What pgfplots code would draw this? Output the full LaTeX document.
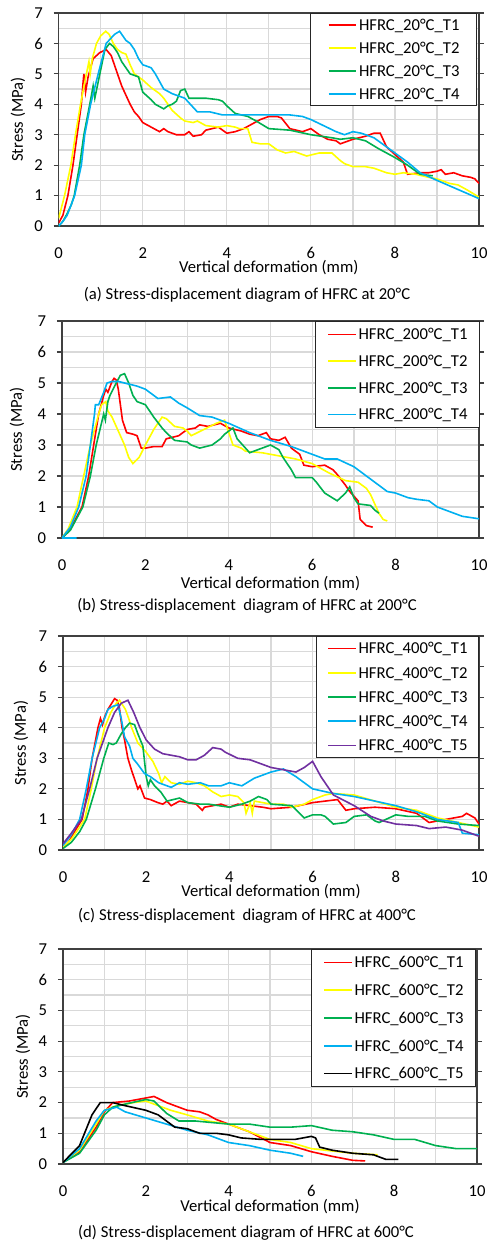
\documentclass[border=0pt]{standalone}
\usepackage{fontspec}
\setmainfont{Carlito}
\usepackage{pgfplots}
\pgfplotsset{compat=1.18}

\definecolor{xred}{RGB}{255,0,0}
\definecolor{xyel}{RGB}{255,255,0}
\definecolor{xgrn}{RGB}{0,176,80}
\definecolor{xblu}{RGB}{0,176,240}
\definecolor{xpur}{RGB}{112,48,160}
\definecolor{gridgray}{RGB}{217,217,217}

\newcommand{\fs}{\fontsize{12.5}{14}\selectfont}

\pgfplotsset{
  panel/.style={
    scale only axis, anchor=south west,
    xmin=0, xmax=10, ymin=0, ymax=7,
    xtick={0,2,...,10}, minor xtick={1,3,...,9},
    ytick={0,...,7}, minor ytick={0.5,1.5,...,6.5},
    grid=both,
    major grid style={draw=gridgray, line width=0.9pt},
    minor grid style={draw=gridgray, line width=0.9pt},
    axis line style={draw=black!75, line width=0.9pt},
    tick align=outside, major tick length=3.75pt, minor tick length=0pt,
    xtick style={draw=none},
    ytick style={draw=black!75, line width=0.9pt},
    /pgf/number format/assume math mode=true,
    tick label style={font=\fs},
    xticklabel style={anchor=center, yshift=-16.5pt, inner sep=0pt},
    yticklabel style={anchor=east, xshift=-8pt, inner sep=0pt},
    label style={font=\fs},
    xlabel={Vertical deformation (mm)},
    ylabel={Stress (MPa)},
    legend cell align=left,
    legend style={at={(1,1)}, anchor=north east, draw=black!85, line width=0.8pt,
      fill=white, font=\fs,
      nodes={inner sep=0pt, text height=8pt, text depth=0pt},
      column sep=1.5pt},
    legend image code/.code={\draw[#1, line width=1.3pt] (0pt,0pt) -- (20.6pt,0pt);},
    every axis plot/.append style={line width=1.2pt},
  }
}

\begin{document}
\begin{tikzpicture}
\useasboundingbox (0,0) rectangle (366pt,-932.25pt);

% ---------- (a) 20 C ----------
\begin{axis}[panel, at={(44pt,-169.5pt)}, width=315.25pt, height=159.75pt,
  xlabel style={at={(axis description cs:0.5,0)}, anchor=center, yshift=-31.5pt},
  ylabel style={at={([xshift=-30.5pt]axis description cs:0,0.5)}, anchor=center},
  legend style={xshift=-1.5pt, row sep=9.25pt, inner xsep=12.75pt, inner ysep=4.5pt}]
\addplot[draw=xred] coordinates {
(0,0.1)(0.1,0.35)(0.22,1.0)(0.34,2.0)(0.44,3.0)(0.54,4.0)(0.58,4.7)(0.6,5.0)(0.64,4.4)(0.7,4.9)(0.82,5.5)(0.98,5.7)(1.13,5.8)(1.25,5.6)(1.35,5.2)(1.5,4.6)(1.6,4.3)(1.7,4.0)(1.8,3.75)(1.9,3.6)(2.0,3.4)(2.2,3.25)(2.4,3.1)(2.5,3.2)(2.6,3.1)(2.8,3.0)(3.0,3.0)(3.1,3.1)(3.2,2.95)(3.4,3.0)(3.5,3.15)(3.8,3.25)(3.9,3.15)(4.0,3.05)(4.2,3.1)(4.4,3.2)(4.6,3.35)(4.8,3.5)(5.0,3.6)(5.2,3.6)(5.3,3.55)(5.5,3.2)(5.8,3.1)(6.0,3.2)(6.2,3.0)(6.4,2.85)(6.6,2.8)(6.7,2.7)(6.8,2.75)(7.0,2.85)(7.3,2.95)(7.5,3.05)(7.65,3.05)(7.8,2.6)(8.0,2.35)(8.2,2.1)(8.3,1.7)(8.6,1.75)(8.8,1.75)(9.0,1.8)(9.1,1.85)(9.2,1.7)(9.4,1.75)(9.6,1.65)(9.8,1.6)(9.9,1.55)(10,1.4)
};
\addlegendentry{HFRC\_20°C\_T1}
\addplot[draw=xyel] coordinates {
(0,0.25)(0.14,1.0)(0.29,2.0)(0.4,3.0)(0.52,4.0)(0.66,5.0)(0.72,5.4)(0.75,5.0)(0.8,5.5)(0.9,6.0)(1.0,6.25)(1.12,6.4)(1.2,6.3)(1.3,6.0)(1.4,5.8)(1.5,5.7)(1.6,5.65)(1.7,5.3)(1.8,5.0)(2.0,4.8)(2.2,4.55)(2.4,4.35)(2.5,4.2)(2.7,3.8)(2.9,3.55)(3.0,3.45)(3.2,3.4)(3.3,3.45)(3.5,3.3)(3.8,3.25)(4.0,3.3)(4.2,3.25)(4.3,3.2)(4.5,3.2)(4.6,2.75)(4.8,2.7)(5.0,2.7)(5.2,2.5)(5.4,2.4)(5.6,2.45)(5.8,2.35)(5.9,2.3)(6.2,2.4)(6.5,2.4)(6.7,2.15)(6.8,2.05)(7.0,1.95)(7.3,1.95)(7.5,1.9)(7.8,1.75)(8.0,1.7)(8.2,1.75)(8.5,1.7)(8.8,1.6)(9.0,1.55)(9.3,1.4)(9.5,1.35)(9.7,1.2)(10,0.95)
};
\addlegendentry{HFRC\_20°C\_T2}
\addplot[draw=xgrn] coordinates {
(0,0)(0.1,0.15)(0.2,0.4)(0.3,0.7)(0.37,1.0)(0.5,2.0)(0.6,3.0)(0.74,4.0)(0.82,4.6)(0.86,4.2)(0.98,5.0)(1.1,5.8)(1.21,6.0)(1.3,5.9)(1.4,5.7)(1.5,5.4)(1.6,5.2)(1.7,5.0)(1.9,4.9)(2.0,4.4)(2.2,4.15)(2.3,4.0)(2.5,3.85)(2.6,3.95)(2.7,4.0)(2.8,4.1)(2.9,4.45)(3.0,4.5)(3.1,4.2)(3.5,4.2)(3.8,4.15)(3.9,4.1)(4.0,3.95)(4.2,3.7)(4.5,3.6)(4.7,3.45)(5.0,3.2)(5.5,3.15)(6.0,3.0)(6.5,2.9)(6.7,2.85)(7.0,2.9)(7.3,2.8)(7.6,2.55)(7.8,2.4)(8.0,2.25)(8.3,2.0)(8.6,1.7)(8.9,1.65)
};
\addlegendentry{HFRC\_20°C\_T3}
\addplot[draw=xblu] coordinates {
(0,0)(0.1,0.15)(0.2,0.35)(0.3,0.7)(0.38,1.0)(0.54,2.0)(0.62,3.0)(0.76,4.0)(0.94,5.0)(1.13,6.0)(1.33,6.3)(1.45,6.4)(1.55,6.2)(1.6,6.1)(1.7,6.0)(1.8,5.8)(1.9,5.5)(2.0,5.3)(2.2,5.2)(2.3,5.0)(2.5,4.5)(2.7,4.35)(2.8,4.3)(3.0,4.2)(3.2,3.9)(3.3,3.75)(3.6,3.75)(3.9,3.65)(4.5,3.65)(5.0,3.65)(5.5,3.65)(5.8,3.6)(6.0,3.5)(6.3,3.3)(6.6,3.1)(6.8,3.0)(7.0,3.1)(7.2,3.05)(7.5,2.9)(7.8,2.6)(8.0,2.4)(8.3,2.1)(8.6,1.75)(9.0,1.5)(9.5,1.2)(10,0.9)
};
\addlegendentry{HFRC\_20°C\_T4}
\end{axis}
\node[font=\fs] at (185.25pt,-221.25pt) {(a) Stress-displacement diagram of HFRC at 20°C};

% ---------- (b) 200 C ----------
\begin{axis}[panel, at={(46.5pt,-403.5pt)}, width=312.75pt, height=162.75pt,
  xlabel style={at={(axis description cs:0.5,0)}, anchor=center, yshift=-34.5pt},
  ylabel style={at={([xshift=-33.75pt]axis description cs:0,0.5)}, anchor=center},
  legend style={xshift=0.75pt, row sep=12pt, inner xsep=9pt, inner ysep=5.75pt}]
\addplot[draw=xred] coordinates {
(0,0)(0.2,0.3)(0.48,1.0)(0.64,2.0)(0.76,3.0)(0.88,4.0)(1.0,4.6)(1.05,4.8)(1.1,4.7)(1.2,5.05)(1.25,5.15)(1.3,5.1)(1.35,4.8)(1.45,3.8)(1.55,3.4)(1.7,3.35)(1.8,3.3)(1.9,2.9)(2.0,2.9)(2.2,2.95)(2.4,2.95)(2.5,3.2)(2.8,3.3)(3.0,3.5)(3.2,3.55)(3.3,3.65)(3.5,3.6)(3.8,3.7)(4.0,3.55)(4.3,3.45)(4.5,3.35)(4.7,3.3)(4.9,3.4)(5.0,3.2)(5.2,3.15)(5.35,3.25)(5.5,2.9)(5.7,2.7)(5.8,2.35)(6.0,2.3)(6.3,2.35)(6.5,2.2)(6.6,2.05)(6.8,1.7)(6.9,1.5)(7.1,1.2)(7.15,0.6)(7.3,0.4)(7.45,0.35)
};
\addlegendentry{HFRC\_200°C\_T1}
\addplot[draw=xyel] coordinates {
(0,0)(0.15,0.3)(0.36,1.0)(0.52,2.0)(0.68,3.0)(0.88,4.0)(0.95,4.3)(1.05,4.4)(1.1,4.1)(1.2,3.9)(1.4,3.3)(1.5,3.0)(1.6,2.6)(1.7,2.4)(1.85,2.6)(2.0,3.0)(2.2,3.5)(2.4,3.9)(2.5,3.85)(2.7,3.6)(2.9,3.55)(3.0,3.45)(3.1,3.3)(3.4,3.5)(3.7,3.7)(3.9,3.8)(4.0,3.4)(4.1,3.0)(4.3,2.9)(4.4,2.8)(4.8,2.75)(5.2,2.65)(5.6,2.55)(6.0,2.4)(6.4,2.1)(6.8,1.85)(7.1,1.8)(7.3,1.6)(7.4,1.4)(7.6,0.8)(7.7,0.6)(7.8,0.55)
};
\addlegendentry{HFRC\_200°C\_T2}
\addplot[draw=xgrn] coordinates {
(0,0)(0.2,0.25)(0.5,1.0)(0.68,2.0)(0.82,3.0)(1.0,4.0)(1.04,3.8)(1.1,4.4)(1.15,4.6)(1.3,5.0)(1.4,5.25)(1.5,5.3)(1.6,5.0)(1.7,4.6)(1.8,4.4)(2.0,4.3)(2.2,3.9)(2.4,3.55)(2.5,3.4)(2.7,3.15)(3.0,3.1)(3.1,3.0)(3.3,2.9)(3.6,3.0)(3.8,3.2)(3.9,3.35)(4.1,3.55)(4.2,3.2)(4.4,2.9)(4.5,2.75)(4.8,2.9)(5.0,3.0)(5.2,2.85)(5.3,2.6)(5.5,2.2)(5.6,1.95)(6.0,1.95)(6.1,1.8)(6.3,1.45)(6.6,1.2)(6.8,1.45)(6.9,1.65)(7.0,1.3)(7.1,1.1)(7.4,1.05)(7.5,0.9)(7.6,0.8)
};
\addlegendentry{HFRC\_200°C\_T3}
\addplot[draw=xblu] coordinates {
(0.35,0)(0,0)(0.2,0.35)(0.4,1.0)(0.58,2.0)(0.68,3.0)(0.78,4.0)(0.8,4.3)(0.88,4.3)(1.0,4.7)(1.08,5.0)(1.2,5.05)(1.35,5.05)(1.5,5.0)(1.8,4.9)(2.0,4.8)(2.2,4.6)(2.3,4.5)(2.6,4.55)(2.8,4.35)(3.0,4.2)(3.3,3.95)(3.6,3.9)(4.0,3.7)(4.5,3.4)(5.0,3.15)(5.5,2.95)(6.0,2.7)(6.3,2.55)(6.6,2.55)(7.0,2.3)(7.3,2.0)(7.5,1.8)(7.8,1.5)(8.0,1.45)(8.3,1.3)(8.5,1.25)(8.8,1.2)(9.0,1.0)(9.3,0.85)(9.6,0.7)(10,0.62)
};
\addlegendentry{HFRC\_200°C\_T4}
\end{axis}
\node[font=\fs] at (185.25pt,-454.5pt) {(b) Stress-displacement\ \ diagram of HFRC at 200°C};

% ---------- (c) 400 C ----------
\begin{axis}[panel, at={(47.25pt,-637.5pt)}, width=312pt, height=160.5pt,
  xlabel style={at={(axis description cs:0.5,0)}, anchor=center, yshift=-31.5pt},
  ylabel style={at={([xshift=-31.5pt]axis description cs:0,0.5)}, anchor=center},
  legend style={xshift=0pt, row sep=10.2pt, inner xsep=8.25pt, inner ysep=5pt}]
\addplot[draw=xred] coordinates {
(0,0.05)(0.15,0.3)(0.3,0.65)(0.46,1.0)(0.6,2.0)(0.7,3.0)(0.84,4.0)(0.9,4.3)(0.95,4.1)(1.0,4.35)(1.08,4.6)(1.24,4.95)(1.3,4.9)(1.35,4.7)(1.42,4.0)(1.48,3.6)(1.56,3.0)(1.65,2.6)(1.8,2.0)(1.85,2.1)(1.96,1.7)(2.1,1.65)(2.28,1.55)(2.4,1.5)(2.5,1.6)(2.6,1.45)(2.8,1.6)(3.0,1.55)(3.2,1.5)(3.35,1.3)(3.4,1.4)(3.6,1.45)(3.8,1.5)(4.0,1.4)(4.2,1.5)(4.5,1.45)(4.8,1.4)(5.0,1.35)(5.5,1.4)(6.0,1.55)(6.3,1.6)(6.6,1.65)(6.8,1.3)(7.0,1.35)(7.5,1.4)(8.0,1.35)(8.5,1.2)(8.8,0.9)(9.2,1.0)(9.6,1.1)(9.7,1.2)(9.9,1.05)(10,0.85)
};
\addlegendentry{HFRC\_400°C\_T1}
\addplot[draw=xyel] coordinates {
(0,0.1)(0.2,0.35)(0.35,0.65)(0.52,1.0)(0.68,2.0)(0.82,3.0)(1.0,4.0)(1.15,4.5)(1.28,4.8)(1.36,4.9)(1.5,4.6)(1.58,4.3)(1.65,4.0)(1.8,3.5)(2.0,3.2)(2.16,2.9)(2.3,2.5)(2.37,2.2)(2.45,2.4)(2.6,2.2)(2.8,2.15)(3.0,2.25)(3.2,2.2)(3.4,2.1)(3.6,1.9)(3.8,1.75)(4.0,1.8)(4.2,1.75)(4.35,1.55)(4.4,1.2)(4.5,1.55)(4.55,1.2)(4.6,1.6)(4.8,1.55)(5.0,1.5)(5.3,1.5)(5.5,1.4)(5.8,1.5)(6.0,1.65)(6.3,1.8)(6.5,1.85)(7.0,1.8)(7.5,1.6)(8.0,1.4)(8.5,1.3)(9.0,1.05)(9.5,0.9)(10,0.75)
};
\addlegendentry{HFRC\_400°C\_T2}
\addplot[draw=xgrn] coordinates {
(0,0.05)(0.2,0.25)(0.4,0.6)(0.56,1.0)(0.78,2.0)(0.98,3.0)(1.1,3.5)(1.2,3.45)(1.28,3.5)(1.4,3.8)(1.5,4.0)(1.6,4.15)(1.72,4.1)(1.8,3.8)(1.92,3.4)(2.0,2.4)(2.05,2.1)(2.1,2.3)(2.2,2.1)(2.35,1.9)(2.5,1.6)(2.8,1.7)(3.0,1.55)(3.3,1.5)(3.5,1.5)(4.0,1.4)(4.3,1.5)(4.5,1.6)(4.7,1.75)(4.9,1.65)(5.0,1.5)(5.5,1.45)(5.8,1.05)(6.0,1.15)(6.2,1.15)(6.3,1.1)(6.5,0.85)(6.8,0.9)(7.0,1.1)(7.3,1.15)(7.5,0.95)(7.6,0.9)(8.0,1.15)(8.3,1.1)(8.7,1.1)(9.0,0.95)(9.5,0.85)(10,0.8)
};
\addlegendentry{HFRC\_400°C\_T3}
\addplot[draw=xblu] coordinates {
(0,0.15)(0.2,0.5)(0.4,1.0)(0.56,2.0)(0.7,3.0)(0.88,4.0)(1.0,4.3)(1.08,4.6)(1.2,4.7)(1.32,4.75)(1.4,4.3)(1.48,3.7)(1.6,3.4)(1.68,3.0)(1.8,2.8)(1.96,2.5)(2.1,2.4)(2.3,2.2)(2.6,2.05)(2.8,2.2)(3.0,2.15)(3.3,2.2)(3.5,2.1)(3.8,2.1)(4.0,2.2)(4.3,2.1)(4.6,2.35)(5.0,2.55)(5.3,2.65)(5.6,2.4)(6.0,2.0)(6.5,1.85)(7.0,1.75)(7.5,1.6)(8.0,1.45)(8.5,1.25)(9.0,1.0)(9.5,0.9)(9.6,0.55)(10,0.5)
};
\addlegendentry{HFRC\_400°C\_T4}
\addplot[draw=xpur] coordinates {
(0,0.2)(0.2,0.55)(0.44,1.0)(0.64,2.0)(0.82,3.0)(1.08,4.0)(1.24,4.5)(1.4,4.8)(1.56,4.9)(1.7,4.5)(1.85,4.0)(2.0,3.6)(2.2,3.3)(2.4,3.15)(2.6,3.1)(2.8,3.05)(3.0,2.95)(3.2,2.95)(3.4,3.1)(3.6,3.35)(3.8,3.3)(3.9,3.2)(4.2,3.0)(4.5,2.95)(4.8,2.8)(5.0,2.7)(5.2,2.65)(5.6,2.55)(5.8,2.7)(6.0,2.9)(6.2,2.4)(6.5,1.8)(7.0,1.45)(7.4,1.1)(7.7,0.95)(8.0,0.85)(8.5,0.8)(8.8,0.7)(9.2,0.75)(9.6,0.65)(10,0.45)
};
\addlegendentry{HFRC\_400°C\_T5}
\end{axis}
\node[font=\fs] at (185.25pt,-687pt) {(c) Stress-displacement\ \ diagram of HFRC at 400°C};

% ---------- (d) 600 C ----------
\begin{axis}[panel, at={(47.25pt,-873pt)}, width=310.5pt, height=161.25pt,
  xlabel style={at={(axis description cs:0.5,0)}, anchor=center, yshift=-32.25pt},
  ylabel style={at={([xshift=-30pt]axis description cs:0,0.5)}, anchor=center},
  legend style={xshift=-0.75pt, row sep=12.8pt, inner xsep=9pt, inner ysep=5.75pt}]
\addplot[draw=xred] coordinates {
(0,0.05)(0.4,0.4)(0.8,1.2)(1.0,1.7)(1.2,2.0)(1.6,2.05)(2.0,2.15)(2.2,2.2)(2.5,2.0)(3.0,1.75)(3.3,1.7)(3.5,1.6)(3.7,1.45)(4.0,1.3)(4.5,1.05)(5.0,0.7)(5.5,0.6)(6.0,0.4)(6.5,0.25)(7.0,0.12)(7.3,0.1)
};
\addlegendentry{HFRC\_600°C\_T1}
\addplot[draw=xyel] coordinates {
(0,0.05)(0.4,0.45)(0.8,1.3)(1.0,1.75)(1.3,1.9)(1.7,2.0)(2.0,2.05)(2.3,1.9)(2.6,1.75)(3.0,1.6)(3.5,1.4)(4.0,1.3)(4.5,1.05)(5.0,0.8)(5.5,0.7)(6.0,0.5)(7.0,0.35)(7.6,0.3)
};
\addlegendentry{HFRC\_600°C\_T2}
\addplot[draw=xgrn] coordinates {
(0,0.05)(0.4,0.35)(0.8,1.1)(1.0,1.6)(1.2,1.85)(1.5,1.95)(2.0,2.1)(2.2,2.05)(2.5,1.65)(2.8,1.4)(3.2,1.4)(3.6,1.35)(4.0,1.3)(4.5,1.3)(5.0,1.2)(5.5,1.2)(6.0,1.25)(6.5,1.1)(7.0,1.05)(7.5,0.95)(8.0,0.8)(8.5,0.8)(9.0,0.6)(9.5,0.5)(10,0.5)
};
\addlegendentry{HFRC\_600°C\_T3}
\addplot[draw=xblu] coordinates {
(0,0.05)(0.4,0.5)(0.8,1.4)(1.0,1.75)(1.3,1.85)(1.5,1.7)(2.0,1.5)(2.5,1.3)(3.0,1.1)(3.5,0.95)(4.0,0.7)(4.5,0.6)(5.0,0.45)(5.5,0.35)(5.8,0.25)
};
\addlegendentry{HFRC\_600°C\_T4}
\addplot[draw=black] coordinates {
(0,0.05)(0.4,0.6)(0.7,1.6)(0.9,2.0)(1.2,2.0)(1.5,1.9)(2.0,1.75)(2.3,1.6)(2.7,1.2)(3.0,1.15)(3.3,1.0)(3.7,1.0)(4.0,0.95)(4.3,0.85)(4.8,0.8)(5.0,0.8)(5.3,0.8)(5.6,0.8)(6.0,0.9)(6.1,0.85)(6.2,0.55)(6.5,0.45)(7.0,0.35)(7.5,0.3)(7.8,0.15)(8.1,0.15)
};
\addlegendentry{HFRC\_600°C\_T5}
\end{axis}
\node[font=\fs] at (184.5pt,-924.75pt) {(d) Stress-displacement diagram of HFRC at 600°C};
\end{tikzpicture}
\end{document}
